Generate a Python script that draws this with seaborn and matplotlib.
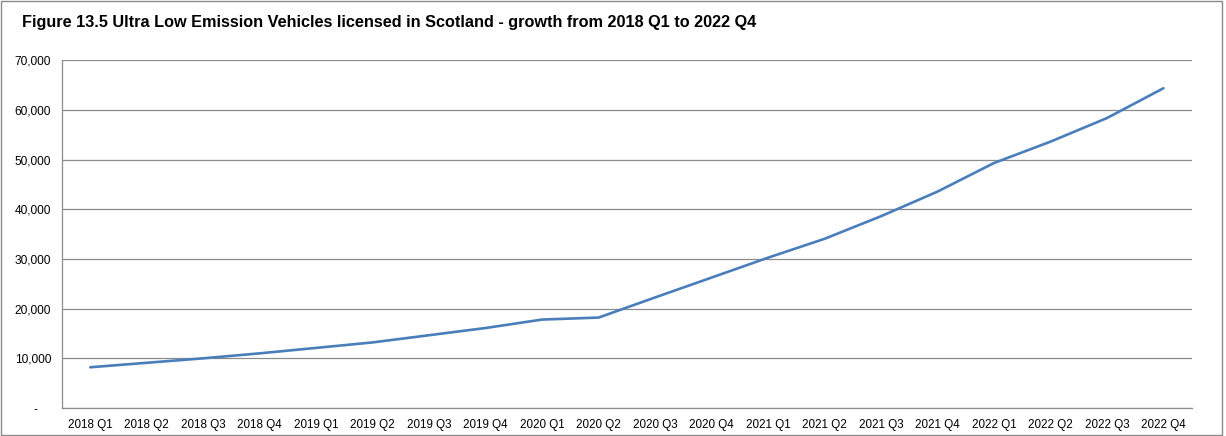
import seaborn as sns
import matplotlib.pyplot as plt
import pandas as pd
from matplotlib.ticker import FuncFormatter, FixedLocator
from matplotlib.patches import Rectangle

# quarters and vehicle counts
quarters = ["2018 Q1", "2018 Q2", "2018 Q3", "2018 Q4",
            "2019 Q1", "2019 Q2", "2019 Q3", "2019 Q4",
            "2020 Q1", "2020 Q2", "2020 Q3", "2020 Q4",
            "2021 Q1", "2021 Q2", "2021 Q3", "2021 Q4",
            "2022 Q1", "2022 Q2", "2022 Q3", "2022 Q4"]
vehicles = [8200, 9100, 10000, 11000,
            12100, 13200, 14650, 16100,
            17800, 18200, 22250, 26250,
            30250, 34050, 38600, 43550,
            49300, 53600, 58350, 64350]

df = pd.DataFrame({"Quarter": quarters, "Vehicles": vehicles})

sns.set_style("white")
plt.rcParams['font.family'] = ['Liberation Sans', 'DejaVu Sans']

fig = plt.figure(figsize=(12.26, 4.36), dpi=100)
ax = fig.add_axes([0.0506, 0.0642, 0.9214, 0.7978])

# draw the line
sns.lineplot(x="Quarter", y="Vehicles", data=df, color="#4a7ebb",
             linewidth=1.9, ax=ax, sort=False)

ax.set_xlim(-0.5, len(quarters) - 0.5)
ax.set_ylim(0, 70000)
ax.set_yticks(range(0, 70001, 10000))
ax.yaxis.set_major_formatter(FuncFormatter(
    lambda v, p: "-    " if v == 0 else f"{int(v):,}"))
ax.grid(axis="y", color="#8c8c8c", linewidth=0.9)
ax.set_axisbelow(True)

# excel style ticks between categories
ax.xaxis.set_minor_locator(FixedLocator([i - 0.5 for i in range(len(quarters) + 1)]))
ax.tick_params(axis="x", which="major", length=0, labelsize=8.4, pad=8, labelcolor="black")
ax.tick_params(axis="x", which="minor", length=5, width=0.9, color="#8c8c8c", direction="out")
ax.tick_params(axis="y", which="major", length=5, width=0.9, color="#8c8c8c",
               direction="out", labelsize=8.6, pad=3, labelcolor="black")

for s in ["top", "right"]:
    ax.spines[s].set_visible(False)
for s in ["left", "bottom"]:
    ax.spines[s].set_color("#8c8c8c")
    ax.spines[s].set_linewidth(0.9)

ax.set_xlabel("")
ax.set_ylabel("")

fig.text(22 / 1226, 1 - 23 / 436,
         "Figure 13.5 Ultra Low Emission Vehicles licensed in Scotland - growth from 2018 Q1 to 2022 Q4",
         fontsize=11.7, fontweight="bold", ha="left", va="center", color="black")

# outer border
fig.patches.append(Rectangle((0.001, 0.003), 0.996, 0.994, transform=fig.transFigure,
                             fill=False, edgecolor="#8c8c8c", linewidth=1))

fig.savefig("out.png", dpi=100)
